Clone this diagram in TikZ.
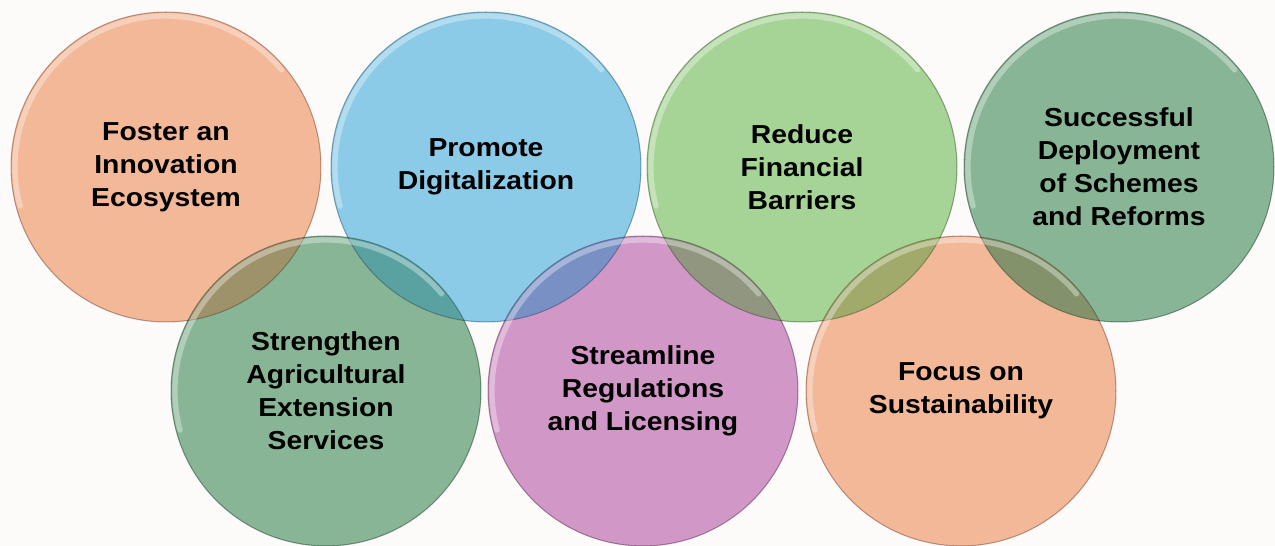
\documentclass[tikz,border=0pt]{standalone}
\usepackage{fontspec}
\setmainfont{Liberation Sans}[FakeStretch=1.09]
\definecolor{peach}{RGB}{245,188,156}
\definecolor{sky}{RGB}{141,208,236}
\definecolor{lightgreen}{RGB}{168,216,154}
\definecolor{seagreen}{RGB}{137,185,153}
\definecolor{orchid}{RGB}{211,155,203}
\definecolor{paper}{RGB}{253,250,250}
\begin{document}
\begin{tikzpicture}[x=0.02cm, y=0.02cm, line join=round, line cap=round,
		font=\bfseries\fontsize{14.8}{18.7}\selectfont,
		bubble/.style={circle, minimum size=6.2cm, inner sep=0pt, align=center,
			fill=#1, draw=#1!60!black, draw opacity=0.6, line width=0.6pt},
		rim/.style={white, opacity=0.35, line width=3pt}]
	\fill[paper] (0,0) rectangle (1275,546);
	\useasboundingbox (0,0) rectangle (1275,546);
	\clip (0,0) rectangle (1275,546);
	\begin{scope}[blend mode=multiply]
		% top row
		\node[bubble=peach] (innov) at (166,379) {Foster an\\Innovation\\Ecosystem};
		\node[bubble=sky] (digit) at (486,379) {Promote\\Digitalization};
		\node[bubble=lightgreen] (fin) at (802,379) {Reduce\\Financial\\Barriers};
		\node[bubble=seagreen] (schemes) at (1119,379) {Successful\\Deployment\\of Schemes\\and Reforms};
		% bottom row
		\node[bubble=seagreen] (agri) at (326,155) {Strengthen\\Agricultural\\Extension\\Services};
		\node[bubble=orchid] (regul) at (643,155) {Streamline\\Regulations\\and Licensing};
		\node[bubble=peach] (sustain) at (961,155) {Focus on\\Sustainability};
	\end{scope}
	% lighten the overlaps a little
	\begin{scope}
		\clip (agri.center) circle[radius=155] (regul.center) circle[radius=155] (sustain.center) circle[radius=155];
		\fill[peach, opacity=0.25] (innov.center) circle[radius=155];
		\fill[sky, opacity=0.25] (digit.center) circle[radius=155];
		\fill[lightgreen, opacity=0.25] (fin.center) circle[radius=155];
		\fill[seagreen, opacity=0.25] (schemes.center) circle[radius=155];
	\end{scope}
	\foreach \n in {innov,digit,fin,schemes,agri,regul,sustain}
		\draw[rim] ([shift={(195:151)}]\n.center) arc[start angle=195, end angle=40, radius=151];
\end{tikzpicture}
\end{document}
